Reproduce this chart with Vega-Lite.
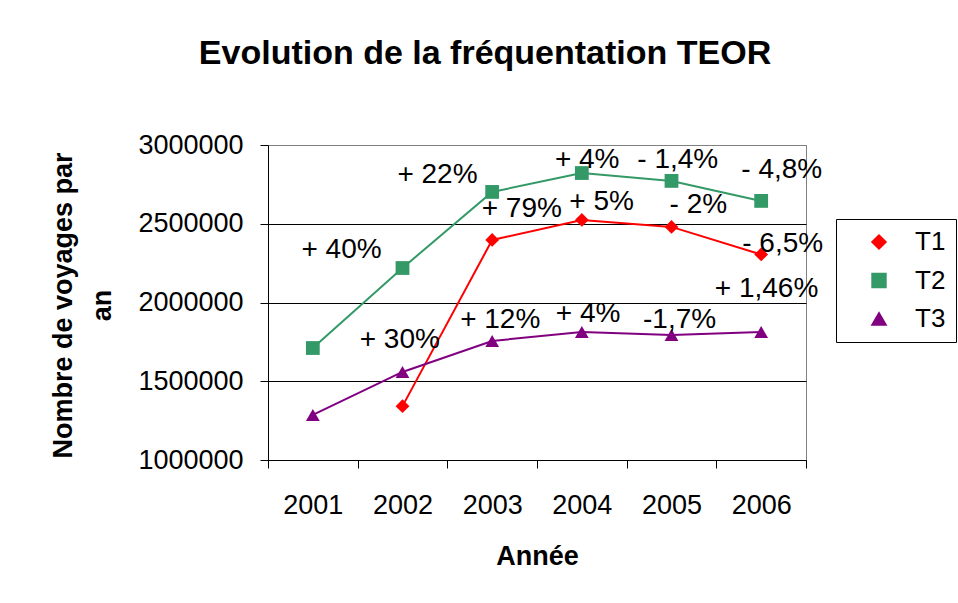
{
  "$schema": "https://vega.github.io/schema/vega-lite/v6.json",
  "width": 538,
  "height": 315,
  "autosize": "none",
  "padding": {"left": 268, "top": 145, "right": 152, "bottom": 143},
  "background": "white",
  "title": {
    "text": "Evolution de la fréquentation TEOR",
    "font": "Liberation Sans",
    "fontSize": 34,
    "fontWeight": "bold",
    "color": "black",
    "anchor": "middle",
    "frame": "group",
    "dx": -52,
    "offset": 33,
    "baseline": "alphabetic"
  },
  "datasets": {
    "series": [
      {"ligne": "T1", "annee": 2002, "voyages": 1342000},
      {"ligne": "T1", "annee": 2003, "voyages": 2397000},
      {"ligne": "T1", "annee": 2004, "voyages": 2524000},
      {"ligne": "T1", "annee": 2005, "voyages": 2480000},
      {"ligne": "T1", "annee": 2006, "voyages": 2305000},
      {"ligne": "T2", "annee": 2001, "voyages": 1711000},
      {"ligne": "T2", "annee": 2002, "voyages": 2219000},
      {"ligne": "T2", "annee": 2003, "voyages": 2702000},
      {"ligne": "T2", "annee": 2004, "voyages": 2822000},
      {"ligne": "T2", "annee": 2005, "voyages": 2772000},
      {"ligne": "T2", "annee": 2006, "voyages": 2645000},
      {"ligne": "T3", "annee": 2001, "voyages": 1286000},
      {"ligne": "T3", "annee": 2002, "voyages": 1559000},
      {"ligne": "T3", "annee": 2003, "voyages": 1756000},
      {"ligne": "T3", "annee": 2004, "voyages": 1813000},
      {"ligne": "T3", "annee": 2005, "voyages": 1794000},
      {"ligne": "T3", "annee": 2006, "voyages": 1813000}
    ],
    "etiquettes": [
      {"texte": "+ 40%", "annee": 2001.32, "voyages": 2282500},
      {"texte": "+ 22%", "annee": 2002.39, "voyages": 2758700},
      {"texte": "+ 79%", "annee": 2003.33, "voyages": 2542900},
      {"texte": "+ 4%", "annee": 2004.06, "voyages": 2854000},
      {"texte": "+ 5%", "annee": 2004.22, "voyages": 2587300},
      {"texte": "- 1,4%", "annee": 2005.07, "voyages": 2854000},
      {"texte": "- 2%", "annee": 2005.3, "voyages": 2568300},
      {"texte": "- 4,8%", "annee": 2006.23, "voyages": 2790500},
      {"texte": "- 6,5%", "annee": 2006.24, "voyages": 2320600},
      {"texte": "+ 1,46%", "annee": 2006.06, "voyages": 2034900},
      {"texte": "+ 30%", "annee": 2001.97, "voyages": 1711100},
      {"texte": "+ 12%", "annee": 2003.09, "voyages": 1838100},
      {"texte": "+ 4%", "annee": 2004.07, "voyages": 1876200},
      {"texte": "-1,7%", "annee": 2005.09, "voyages": 1838100}
    ]
  },
  "encoding": {
    "x": {
      "field": "annee",
      "type": "quantitative",
      "scale": {"domain": [2000.5, 2006.5], "nice": false, "zero": false},
      "axis": {
        "title": "Année",
        "titleFontSize": 27,
        "titleFontWeight": "bold",
        "titleY": 104,
        "titleBaseline": "alphabetic",
        "values": [2000.5, 2001.5, 2002.5, 2003.5, 2004.5, 2005.5, 2006.5],
        "labelExpr": "datum.value < 2006 ? format(datum.value + 0.5, 'd') : ''",
        "labelOffset": 44.83,
        "labelOverlap": false,
        "labelFlush": false,
        "labelFontSize": 27,
        "labelPadding": 24,
        "tickSize": 8,
        "grid": false
      }
    },
    "y": {
      "field": "voyages",
      "type": "quantitative",
      "scale": {"domain": [1000000, 3000000], "nice": false, "zero": false},
      "axis": {
        "title": ["Nombre de voyages par", "an"],
        "titleFontSize": 27,
        "titleFontWeight": "bold",
        "titleX": -197,
        "titleY": 160,
        "titleAngle": -90,
        "titleAlign": "center",
        "titleBaseline": "alphabetic",
        "titleLineHeight": 39,
        "values": [1000000, 1500000, 2000000, 2500000, 3000000],
        "format": "d",
        "labelFontSize": 27,
        "labelPadding": 17,
        "tickSize": 8,
        "grid": true,
        "gridColor": {"condition": {"test": "datum.value === 3000000", "value": "#808080"}, "value": "black"},
        "gridWidth": 1
      }
    }
  },
  "layer": [
    {
      "data": {"name": "series"},
      "mark": {"type": "line", "strokeWidth": 2},
      "encoding": {
        "color": {
          "field": "ligne",
          "type": "nominal",
          "scale": {"domain": ["T1", "T2", "T3"], "range": ["#FF0000", "#339966", "#800080"]}
        }
      }
    },
    {
      "data": {"name": "series"},
      "mark": {"type": "point", "filled": true, "opacity": 1, "size": 190},
      "encoding": {
        "color": {
          "field": "ligne",
          "type": "nominal"
        },
        "shape": {
          "field": "ligne",
          "type": "nominal",
          "scale": {"domain": ["T1", "T2", "T3"], "range": ["diamond", "square", "triangle-up"]}
        }
      }
    },
    {
      "data": {"name": "etiquettes"},
      "mark": {"type": "text", "fontSize": 28, "font": "Liberation Sans", "align": "center", "baseline": "alphabetic", "color": "black"},
      "encoding": {
        "text": {"field": "texte", "type": "nominal"}
      }
    }
  ],
  "config": {
    "font": "Liberation Sans",
    "view": {"stroke": "#808080", "strokeWidth": 1},
    "axis": {
      "labelFont": "Liberation Sans",
      "titleFont": "Liberation Sans",
      "labelColor": "black",
      "titleColor": "black",
      "domainColor": "black",
      "tickColor": "black"
    },
    "legend": {
      "disable": false,
      "title": null,
      "orient": "none",
      "legendX": 568,
      "legendY": 74,
      "strokeColor": "black",
      "fillColor": "white",
      "padding": 10,
      "rowPadding": 12.5,
      "labelFontSize": 26,
      "labelColor": "black",
      "labelFont": "Liberation Sans",
      "symbolSize": 180,
      "symbolStrokeWidth": 2,
      "symbolOffset": 20,
      "labelOffset": 23
    }
  }
}
